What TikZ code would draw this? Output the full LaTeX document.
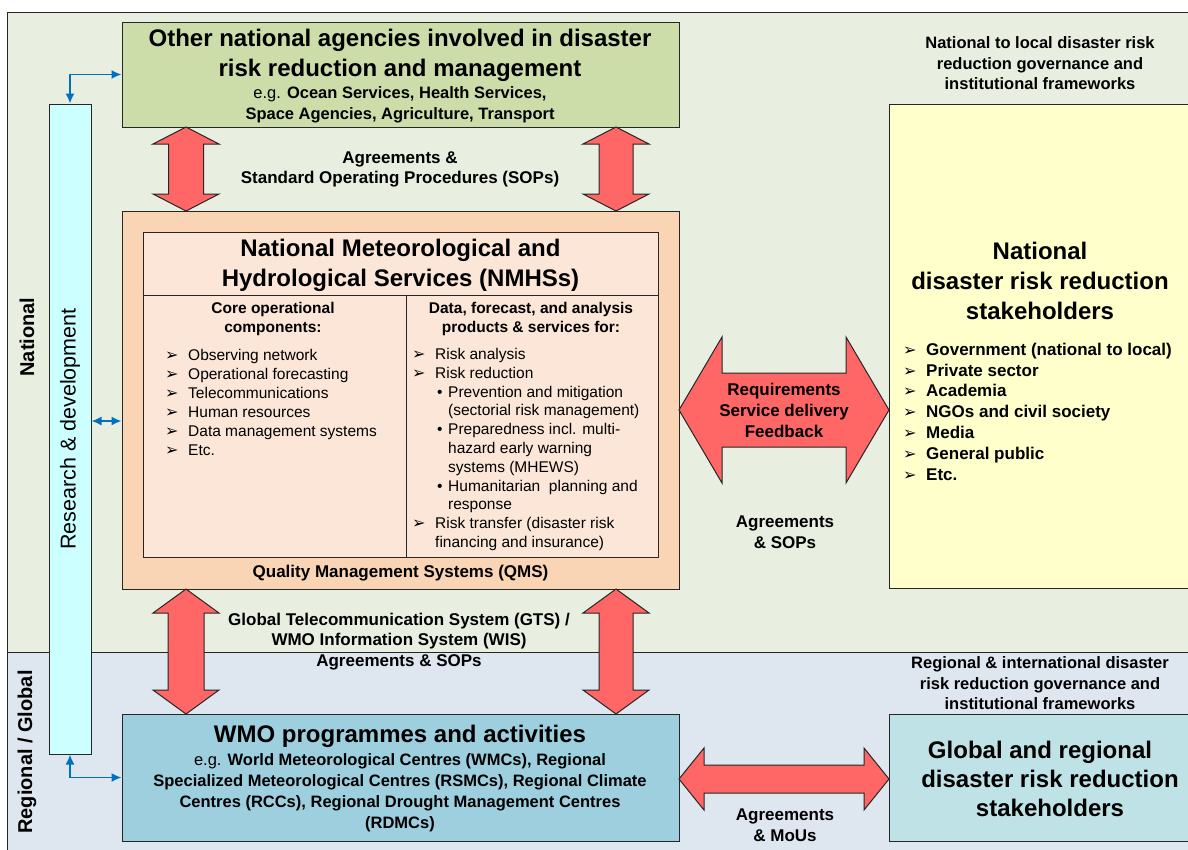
\documentclass[tikz,border=0pt]{standalone}
\usepackage{fontspec}
\setmainfont{Liberation Sans}
\newfontfamily\dejavu{DejaVu Sans}
\usetikzlibrary{arrows.meta}

\definecolor{natbg}{RGB}{233,239,224}
\definecolor{regbg}{RGB}{222,231,240}
\definecolor{othfill}{RGB}{204,221,170}
\definecolor{nmfill}{RGB}{250,213,181}
\definecolor{nminner}{RGB}{251,230,215}
\definecolor{yelfill}{RGB}{255,255,204}
\definecolor{wmofill}{RGB}{157,207,222}
\definecolor{glofill}{RGB}{191,226,230}
\definecolor{rdfill}{RGB}{204,255,255}
\definecolor{redarr}{RGB}{255,102,102}
\definecolor{bluearr}{RGB}{0,112,192}

\newcommand{\bul}{\makebox[23pt][l]{\dejavu\fontsize{16}{16}\selectfont ➢}}
\newcommand{\sbul}{\hspace*{25pt}\makebox[11pt][l]{•}}
\newcommand{\sind}{\hspace*{36pt}}
% vertical fat double arrow: x, ytop, ybot, half head, half shaft, head length
\newcommand{\fatv}[6]{%
  \draw[fat] (#1,#2) -- ({#1+#4},{#2+#6}) -- ({#1+#5},{#2+#6}) -- ({#1+#5},{#3-#6})
   -- ({#1+#4},{#3-#6}) -- (#1,#3) -- ({#1-#4},{#3-#6}) -- ({#1-#5},{#3-#6})
   -- ({#1-#5},{#2+#6}) -- ({#1-#4},{#2+#6}) -- cycle;}
% horizontal fat double arrow: xleft, xright, y, half head, half shaft, head length
\newcommand{\fath}[6]{%
  \draw[fat] (#1,#3) -- ({#1+#6},{#3-#4}) -- ({#1+#6},{#3-#5}) -- ({#2-#6},{#3-#5})
   -- ({#2-#6},{#3-#4}) -- (#2,#3) -- ({#2-#6},{#3+#4}) -- ({#2-#6},{#3+#5})
   -- ({#1+#6},{#3+#5}) -- ({#1+#6},{#3+#4}) -- cycle;}

\begin{document}
\begin{tikzpicture}[x=1pt,y=-1pt,
  box/.style={draw=black!85, line width=1pt, inner sep=0pt},
  fat/.style={draw=black!85, line width=1pt, fill=redarr, line join=miter},
  barr/.style={bluearr, line width=1.6pt, {Latex[length=10pt,width=9pt]}-{Latex[length=10pt,width=9pt]}},
  txt/.style={align=center, inner sep=0pt, font=\bfseries\fontsize{17}{20.8}\selectfont},
  ttl/.style={align=center, inner sep=0pt, font=\bfseries\fontsize{24}{30}\selectfont},
  lst/.style={align=left, inner sep=0pt, anchor=base west}]
\useasboundingbox (0,0) rectangle (1188,849);
\fill[white] (0,0) rectangle (1188,849);
\clip (0,0) rectangle (1188,849);

% regions
\fill[natbg] (7,12) rectangle (1200,652);
\fill[regbg] (7,652) rectangle (1200,860);
\draw[black!85, line width=1pt] (1200,12) -- (7,12) -- (7,860);
\draw[black!85, line width=1pt] (7,652) -- (1200,652);
\node[rotate=90, font=\bfseries\fontsize{20}{24}\selectfont, inner sep=0pt] (natl) at (27,337) {National};
\node[rotate=90, font=\bfseries\fontsize{20}{24}\selectfont, inner sep=0pt] (regl) at (27,752) {Regional / Global};

% research & development bar
\node[box, fill=rdfill, minimum width=42pt, minimum height=650pt] (rd) at (70,429) {};
\node[rotate=90, font=\fontsize{21.5}{24}\selectfont, inner sep=0pt] (rdl) at (70,429) {Research \& development};

% other national agencies
\node[box, fill=othfill, minimum width=557pt, minimum height=105pt] (oth) at (400.5,74.5) {};
\node[ttl] (othT) at (400,55) {Other national agencies involved in disaster\\risk reduction and management};
\node[txt, font=\fontsize{16.5}{21}\selectfont] (othS) at (400,104.5) {e.g. \textbf{Ocean Services, Health Services,}\\\textbf{Space Agencies, Agriculture, Transport}};

\node[txt] (agr1) at (400,169.5) {Agreements \&\\Standard Operating Procedures (SOPs)};

% NMHS
\node[box, fill=nmfill, minimum width=557pt, minimum height=378pt] (nm) at (400.5,400) {};
\node[box, fill=nminner, minimum width=515pt, minimum height=325pt] (nmi) at (400.5,394.5) {};
\draw[black!85, line width=1pt] (nmi.west |- 0,295) coordinate (hl) -- (nmi.east |- 0,295);
\draw[black!85, line width=1pt] (406,295) coordinate (dv) -- (dv |- nmi.south);
\node[ttl] (nmT) at (400.5,265) {National Meteorological and\\Hydrological Services (NMHSs)};
\node[txt, font=\bfseries\fontsize{15.5}{19}\selectfont] (coreH) at (273,318.5) {Core operational\\components:};
\node[txt, font=\bfseries\fontsize{15.5}{19}\selectfont] (dataH) at (531,318.5) {Data, forecast, and analysis\\products \& services for:};
% base anchor = baseline of last line
\node[lst, font=\fontsize{15.5}{19}\selectfont] (coreL) at (165,455.5) {\bul Observing network\\
\bul Operational forecasting\\
\bul Telecommunications\\
\bul Human resources\\
\bul Data management systems\\
\bul Etc.};
\node[lst, font=\fontsize{15.5}{18.8}\selectfont] (dataL) at (412,547.5) {\bul Risk analysis\\
\bul Risk reduction\\
\sbul Prevention and mitigation\\
\sind (sectorial risk management)\\
\sbul Preparedness incl. multi-\\
\sind hazard early warning\\
\sind systems (MHEWS)\\
\sbul Humanitarian~ planning and\\
\sind response\\
\bul Risk transfer (disaster risk\\
\hspace*{23pt}financing and insurance)};
\node[txt] (qms) at (400.5,573) {Quality Management Systems (QMS)};

% national stakeholders
\node[txt, font=\bfseries\fontsize{16.5}{20.5}\selectfont] (natfw) at (1040,63.5) {National to local disaster risk\\reduction governance and\\institutional frameworks};
\node[box, fill=yelfill, minimum width=320pt, minimum height=484pt, anchor=north west] (yel) at (889,104) {};
\node[ttl] (yelT) at (1040,280.5) {National\\disaster risk reduction\\stakeholders};
\node[lst, font=\bfseries\fontsize{17}{20.8}\selectfont] (yelL) at (903,480) {\bul Government (national to local)\\
\bul Private sector\\
\bul Academia\\
\bul NGOs and civil society\\
\bul Media\\
\bul General public\\
\bul Etc.};

% WMO
\node[box, fill=wmofill, minimum width=557pt, minimum height=127pt] (wmo) at (400.5,777.5) {};
\node[ttl] (wmoT) at (400,736) {WMO programmes and activities};
\node[txt, font=\fontsize{16.5}{21}\selectfont] (wmoS) at (400,792.5) {e.g. \textbf{World Meteorological Centres (WMCs), Regional}\\
\textbf{Specialized Meteorological Centres (RSMCs), Regional Climate}\\
\textbf{Centres (RCCs), Regional Drought Management Centres}\\
\textbf{(RDMCs)}};

\node[txt] (gts) at (399,641.5) {Global Telecommunication System (GTS) /\\WMO Information System (WIS)\\Agreements \& SOPs};

% regional stakeholders
\node[txt, font=\bfseries\fontsize{16.5}{20.5}\selectfont] (regfw) at (1040,683.5) {Regional \& international disaster\\risk reduction governance and\\institutional frameworks};
\node[box, fill=glofill, minimum width=320pt, minimum height=127pt, anchor=north west] (glo) at (889,714) {};
\node[ttl, font=\bfseries\fontsize{24}{29}\selectfont] (gloT) at (1050,778.5) {Global and regional\hspace*{20pt}\\disaster risk reduction\\stakeholders};

% fat red arrows
\fatv{186}{127}{211}{33}{17.5}{17}
\fatv{616}{127}{211}{33}{17}{17}
\fatv{186}{589}{714}{33}{18}{24}
\fatv{616}{589}{714}{33}{17}{24}
\fath{679}{889}{410}{73}{37}{43}
\fath{679}{889}{779}{31}{14}{25}

\node[txt] (req) at (784,410.5) {Requirements\\Service delivery\\Feedback};
\node[txt] (agr2) at (785,532.5) {Agreements\\\& SOPs};
\node[txt] (agr3) at (785,825.5) {Agreements\\\& MoUs};

% blue arrows
\draw[barr] (rd.north) |- (oth.west);
\draw[barr] (rd.south) |- (wmo.west);
\draw[barr] (rd.east |- 0,421) -- (nm.west |- 0,421);
\end{tikzpicture}
\end{document}
